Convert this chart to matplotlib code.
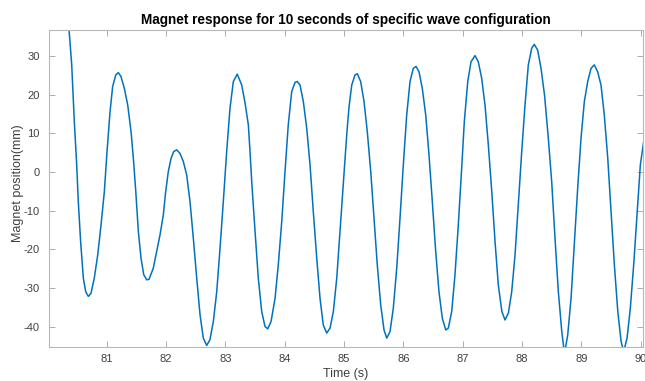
import matplotlib
matplotlib.use("Agg")
import matplotlib.pyplot as plt

time_s = [
    80.022, 80.10, 80.18, 80.25, 80.30, 80.365, 80.41, 80.454, 80.494, 80.521,
    80.56, 80.606, 80.646, 80.69, 80.735, 80.79, 80.848, 80.904, 80.96, 81.005,
    81.056, 81.10, 81.152, 81.196, 81.24, 81.297, 81.354, 81.41, 81.449, 81.49,
    81.533, 81.578, 81.624, 81.674, 81.713, 81.785, 81.842, 81.898, 81.954, 81.994,
    82.038, 82.084, 82.13, 82.18, 82.235, 82.291, 82.348, 82.404, 82.46, 82.517,
    82.573, 82.628, 82.685, 82.74, 82.797, 82.854, 82.91, 82.965, 83.022, 83.078,
    83.134, 83.20, 83.275, 83.33, 83.387, 83.415, 83.444, 83.50, 83.555, 83.612,
    83.668, 83.714, 83.77, 83.837, 83.892, 83.95, 84.005, 84.06, 84.118, 84.174,
    84.212, 84.258, 84.314, 84.371, 84.427, 84.482, 84.54, 84.595, 84.65, 84.708,
    84.764, 84.82, 84.877, 84.932, 84.99, 85.045, 85.085, 85.13, 85.185, 85.224,
    85.28, 85.337, 85.392, 85.45, 85.505, 85.56, 85.618, 85.674, 85.72, 85.775,
    85.83, 85.888, 85.943, 85.999, 86.056, 86.112, 86.167, 86.213, 86.264, 86.319,
    86.377, 86.432, 86.488, 86.545, 86.60, 86.656, 86.714, 86.758, 86.815, 86.87,
    86.926, 86.983, 87.027, 87.085, 87.14, 87.208, 87.263, 87.32, 87.376, 87.432,
    87.49, 87.545, 87.60, 87.66, 87.713, 87.77, 87.826, 87.882, 87.937, 87.995,
    88.05, 88.106, 88.163, 88.207, 88.264, 88.32, 88.38, 88.443, 88.50, 88.556,
    88.612, 88.67, 88.715, 88.77, 88.826, 88.88, 88.938, 88.994, 89.05, 89.107,
    89.163, 89.218, 89.275, 89.331, 89.387, 89.445, 89.50, 89.556, 89.614, 89.67,
    89.714, 89.77, 89.825, 89.882, 89.938, 89.994, 90.05,
]

position_mm = [
    58.0, 62.0, 61.0, 55.0, 48.0, 36.8, 27.7, 13.0, 1.8, -7.7,
    -18.0, -27.5, -31.0, -32.2, -31.4, -27.5, -21.5, -13.7, -5.1, 5.3,
    15.6, 22.1, 25.1, 25.7, 24.7, 21.6, 17.3, 10.4, 3.5, -5.1,
    -15.4, -22.3, -26.6, -27.9, -27.8, -24.9, -20.6, -16.3, -11.1, -5.1,
    0.1, 3.5, 5.3, 5.7, 4.8, 2.7, -0.8, -7.7, -17.2, -27.5,
    -37.0, -43.0, -44.9, -43.4, -38.7, -31.0, -19.7, -7.7, 5.3, 16.5,
    23.4, 25.3, 22.5, 18.0, 12.2, 5.3, -2.5, -15.4, -27.5, -36.1,
    -40.0, -40.6, -38.7, -32.7, -24.0, -12.8, 0.1, 12.2, 20.8, 23.2,
    23.4, 22.5, 18.2, 11.3, 1.8, -10.3, -22.3, -32.7, -39.6, -41.7,
    -40.4, -36.1, -27.5, -15.4, -3.0, 9.6, 17.0, 22.5, 25.1, 25.4,
    23.4, 18.2, 10.4, 0.1, -12.0, -24.0, -34.4, -40.9, -43.0, -41.3,
    -35.3, -24.9, -12.0, 1.8, 14.7, 23.4, 26.8, 27.3, 25.9, 21.6,
    14.7, 4.4, -7.7, -20.6, -31.0, -37.8, -40.9, -40.4, -36.1, -26.6,
    -13.7, 1.0, 13.0, 23.4, 28.5, 30.1, 28.5, 24.2, 17.3, 7.0,
    -5.1, -18.0, -29.2, -36.1, -38.3, -36.5, -31.0, -21.5, -8.5, 5.3,
    17.3, 27.7, 32.0, 33.0, 31.5, 26.8, 19.8, 8.7, -2.5, -17.2,
    -31.0, -41.3, -47.0, -42.2, -32.7, -18.9, -4.2, 8.7, 18.2, 23.4,
    26.8, 27.7, 25.9, 22.5, 14.7, 3.5, -10.3, -24.0, -36.1, -43.9,
    -46.5, -43.0, -35.3, -24.0, -11.1, 1.8, 7.8,
]

x_ticks = [81, 82, 83, 84, 85, 86, 87, 88, 89, 90]
y_ticks = [-40, -30, -20, -10, 0, 10, 20, 30]

title_text = "Magnet response for 10 seconds of specific wave configuration"
x_label = "Time (s)"
y_label = "Magnet position(mm)"

plt.rcParams['font.family'] = ['Liberation Sans', 'DejaVu Sans']
plt.rcParams['axes.unicode_minus'] = False

fig = plt.figure(figsize=(6.45, 3.81), dpi=100)
ax = fig.add_axes([0.0755, 0.0892, 0.997 - 0.0755, 0.922 - 0.0892])

ax.plot(time_s, position_mm, color='#0072BD', linewidth=1.1)

ax.set_xlim(80.022, 90.04)
ax.set_ylim(-45.3, 36.8)
ax.set_xticks(x_ticks)
ax.set_yticks(y_ticks)

spine_color = '#b8b8b8'
for s in ax.spines.values():
    s.set_color(spine_color)
    s.set_linewidth(0.8)

ax.tick_params(direction='in', length=4, width=0.6, color='#a0a0a0',
               labelcolor='#404040', labelsize=8, top=True, right=True)
ax.tick_params(axis='x', pad=5)
ax.tick_params(axis='y', pad=6.5)

ax.set_title(title_text, fontsize=9.8, fontweight='bold', color='black', pad=4)
ax.set_xlabel(x_label, fontsize=9, color='#404040')
ax.set_ylabel(y_label, fontsize=9, color='#404040')
ax.xaxis.set_label_coords(0.5, -0.066)
ax.yaxis.set_label_coords(-0.042, 0.515)

fig.savefig("out.png", dpi=100)
